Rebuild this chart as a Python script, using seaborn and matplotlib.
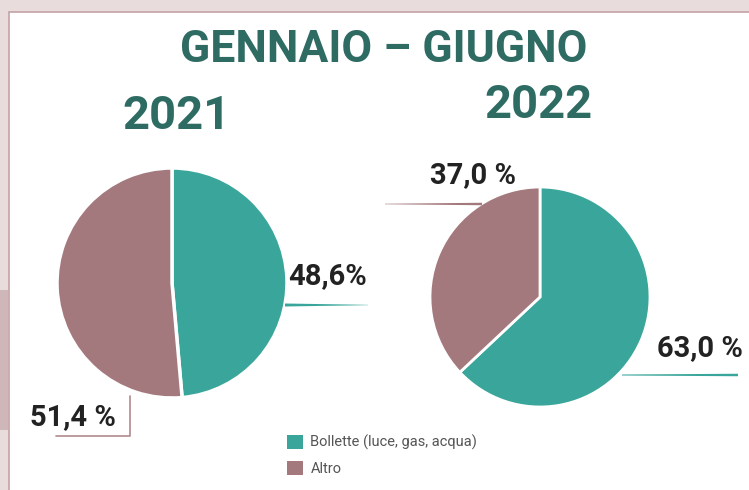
import matplotlib
matplotlib.use("Agg")
import matplotlib.pyplot as plt
import seaborn as sns
import numpy as np
from matplotlib.patches import Rectangle, Polygon, Patch
from matplotlib.lines import Line2D

sns.set_theme(style="white")
plt.rcParams['font.family'] = ['Roboto', 'DejaVu Sans']

# ---- data ----
categories = ["Bollette (luce, gas, acqua)", "Altro"]
values_2021 = [48.6, 51.4]
values_2022 = [63.0, 37.0]
labels_2021 = ["48,6%", "51,4 %"]
labels_2022 = ["63,0 %", "37,0 %"]
years = ["2021", "2022"]
title = "GENNAIO – GIUGNO"

colors = ["#3aa69b", "#a4797d"]
title_color = "#2e6b62"
W, H = 749, 490

fig = plt.figure(figsize=(W / 100, H / 100), dpi=100)
fig.patch.set_facecolor("#e9dcdd")

def fx(px):
    return px / W

def fy(py):
    return 1 - py / H

# white panel
fig.patches.append(Rectangle((fx(9), -0.1), 1.2, fy(12) + 0.1, transform=fig.transFigure,
                             facecolor="white", edgecolor="#c4a3a7", linewidth=1.2, zorder=-10))
fig.patches.append(Rectangle((0, fy(430)), fx(8), (430 - 290) / H, transform=fig.transFigure,
                             facecolor="#cfb7b9", edgecolor="none", zorder=-10))

def pie_axes(cx, cy, r):
    ax = fig.add_axes([fx(cx - r), fy(cy + r), 2 * r / W, 2 * r / H])
    return ax

def finish(ax):
    ax.set_xlim(-1, 1)
    ax.set_ylim(-1, 1)
    ax.axis("off")
    ax.patch.set_alpha(0)

ax1 = pie_axes(172, 283, 115)
ax1.pie(values_2021, colors=colors, startangle=90, counterclock=False, radius=1,
        wedgeprops=dict(edgecolor="white", linewidth=2.5))
finish(ax1)
ax2 = pie_axes(540, 297, 110)
ax2.pie(values_2022, colors=colors, startangle=90, counterclock=False, radius=1,
        wedgeprops=dict(edgecolor="white", linewidth=2))
finish(ax2)

# titles
fig.text(fx(384), fy(50), title, ha="center", va="center", fontsize=32, fontweight="bold",
         color=title_color)
fig.text(fx(176), fy(116), years[0], ha="center", va="center", fontsize=34, fontweight="bold",
         color=title_color)
fig.text(fx(538), fy(105), years[1], ha="center", va="center", fontsize=34, fontweight="bold",
         color=title_color)

lab_kw = dict(fontsize=21, fontweight="bold", color="#222222", va="center")
fig.text(fx(288), fy(276), labels_2021[0], ha="left", **lab_kw)
fig.text(fx(30), fy(417), labels_2021[1], ha="left", **lab_kw)
fig.text(fx(743), fy(348), labels_2022[0], ha="right", **lab_kw)
fig.text(fx(430), fy(175), labels_2022[1], ha="left", **lab_kw)

def taper(x0, x1, y, w0, w1, color):
    xs = np.linspace(x0, x1, 30)
    t = np.linspace(0, 1, 30)
    w = w0 + (w1 - w0) * t
    top = [(fx(a), fy(y - b / 2)) for a, b in zip(xs, w)]
    bot = [(fx(a), fy(y + b / 2)) for a, b in zip(xs[::-1], w[::-1])]
    fig.patches.append(Polygon(top + bot, closed=True, transform=fig.transFigure,
                               facecolor=color, edgecolor="none", zorder=3))

taper(285, 368, 305, 3.0, 0.3, colors[0])
taper(622, 738, 375, 1.0, 2.5, colors[0])
taper(385, 482, 204, 0.5, 2.5, colors[1])

# bracket for 51,4 %
fig.lines.append(Line2D([fx(56), fx(130), fx(130)], [fy(436), fy(436), fy(396)],
                        transform=fig.transFigure, color="#b08a8e", linewidth=1.2))

handles = [Patch(facecolor=c, edgecolor="none") for c in colors]
fig.legend(handles, categories, loc="upper left", bbox_to_anchor=(fx(274), fy(422)),
           frameon=False, fontsize=10.5, handlelength=1.1, handleheight=1.1,
           handletextpad=0.5, labelspacing=0.75, labelcolor="#555555")

fig.savefig("out.png", dpi=100, facecolor=fig.get_facecolor())
